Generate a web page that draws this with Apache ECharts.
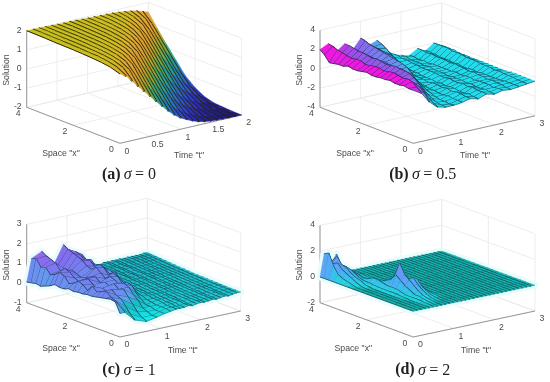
<!DOCTYPE html>
<html><head><meta charset="utf-8">
<style>html,body{margin:0;background:#fff}#c{width:550px;height:382px;filter:blur(.45px)}</style>
<script src="https://cdn.jsdelivr.net/npm/echarts@6/dist/echarts.min.js"></script>
</head><body><div id="c"></div>
<script>
const xGridFine=[0,.2,.4,.6,.8,1,1.2,1.4,1.6,1.8,2,2.2,2.4,2.6,2.8,3,3.2,3.4,3.6,3.8,4];
const xGridA=[0,.4,.8,1.2,1.6,2,2.4,2.8,3.2,3.6,4];
const tGridA=[0,.1,.2,.3,.4,.5,.6,.7,.8,.9,1,1.1,1.2,1.3,1.4,1.5,1.6,1.7,1.8,1.9,2];
const tGridB=[0,.2,.4,.6,.8,1,1.2,1.4,1.6,1.8,2,2.2,2.4,2.6,2.8,3];
const tGridC=[0,.12,.37,.66,.91,1.1,1.25,1.4,1.5,1.6,1.7,1.8,1.9,2,2.1,2.2,2.3,2.4,2.5,2.6,2.7,2.8,2.9,3];
const tGridD=[0,.1,.2,.3,.4,.5,.6,.7,.8,.9,1,1.1,1.2,1.3,1.4,1.5,1.6,1.7,1.8,1.9,2,2.1,2.2,2.3,2.4,2.5,2.6,2.7,2.8,2.9,3];
const solutionA=[
[1.62,1.78,1.85,1.89,1.92,1.94,1.95,1.96,1.98,1.99,2],
[1.43,1.7,1.82,1.88,1.9,1.93,1.95,1.96,1.97,1.99,1.99],
[1.1,1.6,1.77,1.85,1.89,1.92,1.94,1.95,1.96,1.98,1.99],
[.75,1.42,1.7,1.81,1.87,1.9,1.93,1.95,1.96,1.97,1.98],
[.41,1.07,1.58,1.76,1.84,1.89,1.92,1.94,1.95,1.96,1.97],
[.07,.72,1.39,1.69,1.8,1.87,1.9,1.92,1.94,1.95,1.96],
[-.28,.38,1.03,1.56,1.75,1.84,1.89,1.91,1.93,1.95,1.95],
[-.6,.04,.69,1.36,1.68,1.8,1.87,1.9,1.92,1.94,1.95],
[-.92,-.33,.35,1,1.54,1.75,1.83,1.88,1.91,1.93,1.94],
[-1.2,-.63,0,.66,1.33,1.66,1.79,1.86,1.89,1.91,1.93],
[-1.42,-.98,-.36,.31,.97,1.52,1.74,1.83,1.88,1.9,1.91],
[-1.58,-1.22,-.66,-.03,.62,1.3,1.65,1.79,1.86,1.89,1.91],
[-1.72,-1.44,-1,-.39,.28,.94,1.5,1.74,1.83,1.88,1.9],
[-1.83,-1.6,-1.25,-.7,-.05,.59,1.25,1.62,1.79,1.86,1.89],
[-1.9,-1.75,-1.45,-1.02,-.45,.24,.9,1.5,1.73,1.83,1.88],
[-1.94,-1.84,-1.62,-1.27,-.72,-.08,.56,1.2,1.6,1.78,1.85],
[-1.96,-1.91,-1.76,-1.47,-1.05,-.47,.2,.87,1.48,1.72,1.82],
[-1.98,-1.94,-1.85,-1.63,-1.3,-.75,-.1,.53,1.17,1.6,1.77],
[-1.99,-1.96,-1.91,-1.77,-1.48,-1.07,-.48,.18,.84,1.46,1.71],
[-1.99,-1.98,-1.94,-1.86,-1.64,-1.32,-.78,-.14,.5,1.14,1.6],
[-2,-1.99,-1.96,-1.92,-1.78,-1.5,-1.1,-.48,.15,.8,1.5]];
const solutionB=[
[1.5,1.5,1.6,1.5,1.5,1.6,1.5,1.5,1.4,1.4,1.5,1.4,1.3,1.3,1.4,1.2,1.2,1.1,1,1.6,2],
[1,1.4,1.8,1.9,1.8,1.9,2,1.9,1.8,1.9,1.9,1.8,1.7,1.9,1.9,1.8,1.9,2,2.1,2.3,2.4],
[-.1,.5,1,1.2,1.2,1.2,1.3,1.2,1.2,1.1,1.2,1.2,1.1,1.1,1.2,1.2,1.1,1.2,1.2,1.3,1.4],
[-.8,-.6,-.2,.3,.8,1.2,1.5,1.6,1.6,1.7,1.6,1.5,1.6,1.7,1.6,1.7,1.8,1.8,1.9,2,2],
[-1,-1,-.9,-.7,-.4,0,.4,.8,1,1.1,1.1,1,1.1,1.2,1.1,1.1,1.2,1.2,1.2,1.2,1.2],
[-1,-1.1,-1,-1,-.9,-.7,-.5,-.2,.1,.5,1,1.2,1.3,1.4,1.5,1.6,1.7,1.8,1.9,2.1,2.2],
[-.9,-.9,-.9,-.8,-.9,-.9,-.8,-.8,-.7,-.6,-.4,-.1,.2,.6,.9,1.1,1.2,1.2,1.3,1.3,1.3],
[-.7,-.7,-.6,-.6,-.7,-.6,-.7,-.6,-.6,-.7,-.6,-.6,-.5,-.4,-.2,0,.3,.7,1.1,1.4,1.6],
[-.9,-.9,-.8,-.9,-.9,-.8,-.8,-.9,-.8,-.9,-.8,-.8,-.8,-.7,-.7,-.6,-.5,-.3,0,.3,.5],
[-.6,-.6,-.6,-.5,-.6,-.5,-.6,-.6,-.5,-.6,-.6,-.5,-.5,-.5,-.5,-.4,-.4,-.3,-.3,-.2,-.2],
[-.8,-.8,-.7,-.8,-.8,-.7,-.8,-.7,-.7,-.7,-.8,-.7,-.7,-.7,-.6,-.7,-.6,-.6,-.6,-.5,-.5],
[-.6,-.6,-.7,-.6,-.6,-.6,-.7,-.6,-.6,-.7,-.6,-.7,-.7,-.7,-.7,-.7,-.8,-.7,-.8,-.7,-.7],
[-.7,-.7,-.6,-.6,-.5,-.6,-.5,-.5,-.4,-.5,-.4,-.4,-.3,-.4,-.3,-.3,-.3,-.2,-.3,-.2,-.2],
[-.6,-.6,-.6,-.6,-.7,-.7,-.7,-.7,-.7,-.8,-.7,-.8,-.8,-.7,-.8,-.7,-.7,-.7,-.6,-.6,-.6],
[-.5,-.5,-.5,-.4,-.4,-.4,-.3,-.4,-.3,-.3,-.3,-.2,-.2,-.2,-.1,-.1,-.1,0,0,0,0],
[-.4,-.4,-.4,-.4,-.4,-.4,-.5,-.5,-.5,-.5,-.5,-.5,-.5,-.5,-.5,-.5,-.5,-.4,-.4,-.4,-.4]];
const farC1=[-.2,-.2,-.15,-.15,-.1,-.1,-.05,-.05,0,0,.05,.05,.1,.1,.1,.15,.15,.2,.2,.2,.15];
const farC2=[-.15,-.15,-.1,-.1,-.1,-.05,-.05,0,0,.05,.05,.1,.1,.15,.15,.15,.2,.2,.2,.25,.2];
const farC3=[-.13,-.12,-.12,-.1,-.08,-.08,-.05,-.03,0,0,.03,.05,.08,.1,.1,.12,.15,.15,.18,.2,.2];
const farC4=[-.1,-.1,-.08,-.08,-.05,-.05,-.03,0,0,.03,.05,.08,.08,.1,.12,.15,.15,.18,.2,.22,.22];
const farC5=[-.06,-.06,-.05,-.04,-.04,-.03,-.02,0,.02,.03,.05,.07,.08,.1,.11,.12,.15,.18,.2,.21,.21];
const farC6=[-.03,-.02,-.02,-.01,0,0,.01,.02,.03,.04,.05,.07,.09,.1,.12,.14,.16,.18,.2,.22,.25];
const solutionC=[
[.2,.7,.75,.7,.65,.6,.55,.55,.5,.5,.45,.5,.4,.4,.45,.3,.2,.1,.15,.1,.05],
[.2,.4,.6,.7,.9,.8,.7,.9,.6,.8,.9,.7,.6,.9,1,.8,.7,1,.9,1.25,1.2],
[-.3,-.1,.2,.5,.6,.8,.6,.7,.5,.7,.9,.8,.6,.7,.9,1,.8,1.1,1.2,1.3,1.45],
[-.5,-.4,-.2,.1,.4,.7,.6,.8,.6,.7,.6,.8,.7,.6,.5,.6,.7,.6,.6,.7,.6],
[-.4,-.4,-.3,-.2,.1,.3,.6,.7,.5,.7,.8,.6,.8,1,.8,.9,1.1,1.2,1.3,1.4,1.55],
[-.3,-.3,-.3,-.2,-.2,0,.2,.5,.6,.4,.7,.8,.6,.9,.7,.8,1,.9,1.1,1.2,1],
[-.25,-.2,-.2,-.2,-.15,-.1,0,.05,.2,.4,.3,.5,.7,.5,.7,.8,.6,.9,.8,1,.87],
[-.2,-.2,-.2,-.15,-.1,-.1,-.05,0,0,.05,.1,.2,.1,.3,.5,.3,.4,.5,.3,.3,.1],
farC1,farC1,farC2,farC1,farC2,farC3,farC2,farC3,farC4,farC3,farC4,farC5,farC4,farC5,farC6,farC6];
const flatD=[0,0,0,0,0,0,0,0,0,0,0,0,0,0,0,0,0,0,0,0,0];
const solutionD=[
flatD,
[0,0,0,0,0,0,0,0,0,0,0,0,0,0,.1,.2,.3,.5,1,1.9,1.7],
[0,0,0,0,0,0,0,0,0,0,0,0,0,.05,.2,.4,.6,.8,1.2,1,.8],
[0,0,0,0,0,0,0,0,0,0,0,0,.05,.1,.3,.4,.6,.9,1,1.5,1],
[0,0,0,0,0,.05,.05,.1,.1,.1,.1,.1,.15,.2,.2,.3,.5,.7,.8,.8,1.5],
[0,.05,.05,.1,.1,.1,.1,.2,.3,.3,.3,.4,.5,.5,.3,.2,.3,.4,.5,.5,.6],
[0,0,.05,.1,.2,.2,.4,.6,.9,1.2,.7,.5,.3,.2,.1,.1,.1,.2,.2,.3,.3],
[0,0,.05,.1,.2,.4,.7,1,1.3,2,1,.4,.2,.1,.1,.05,.05,.1,.1,.1,.1],
[0,0,0,.05,.2,.4,.7,1.1,.6,.8,.4,.2,.1,.05,0,0,0,0,0,0,0],
[0,0,0,.05,.1,.3,.5,.9,.5,.3,.2,.1,.05,0,0,0,0,0,0,0,0],
[0,0,0,0,.05,.1,.2,.3,.2,.1,.05,0,0,0,0,0,0,0,0,0,0],
flatD,flatD,flatD,flatD,flatD,flatD,flatD,flatD,flatD,flatD,flatD,flatD,flatD,flatD,flatD,flatD,flatD,flatD,flatD,flatD];
const timeTicksA=[0,.5,1,1.5,2];
const timeTicks=[0,1,2,3];
const spaceTicks=[0,2,4];
const zTicksA=[-2,-1,0,1,2];
const zTicksB=[-4,-2,0,2,4];
const zTicksC=[-1,0,1,2,3];
const zTicksD=[-2,0,2,4];
const panelTags=['(a)','(b)','(c)','(d)'];
const sigmaValues=['0','0.5','1','2'];

const FONT='"Liberation Sans",Arial,sans-serif', TXT='#4a4a4a';
const panels=[
 {off:[0,0],O:[120,143.3],Vx:[-93.3,-36],Vt:[121.7,-28.3],H:76.6,ts:tGridA,xs:xGridA,zs:solutionA,tt:timeTicksA,zt:zTicksA,
  stops:[[-2,'#1e1a78'],[-1.5,'#2e34c4'],[-1,'#2a60cc'],[-.5,'#1f90b0'],[0,'#30a880'],[.5,'#9aa830'],[1,'#dc9c30'],[1.5,'#e4a838'],[1.8,'#d0bc22'],[2,'#c4c01e']],
  line:'#2a2400',lwT:2,lwX:0,cap:[129,175],sp:[61,153.3],ti:[189,155.7],so:[6.7,70],tShift:0},
 {off:[275,0],O:[138.3,143.3],Vx:[-93.3,-36],Vt:[121.7,-27.5],H:77,ts:tGridB,xs:xGridFine,zs:solutionB,tt:timeTicks,zt:zTicksB,
  stops:[[-1,'#22dcec'],[-.3,'#38c8ee'],[.3,'#6a90f0'],[1,'#9a50e8'],[1.5,'#f018e0']],
  line:'#0c2030',lwT:1.4,lwX:1,cap:[147.7,175],sp:[80,153.3],ti:[200,155.7],so:[25,70],tShift:1},
 {off:[0,191],O:[120,146],Vx:[-93.3,-34.3],Vt:[120.7,-26],H:78.4,ts:tGridC,xs:xGridFine,zs:solutionC,tt:timeTicks,zt:zTicksC,
  stops:[[-.5,'#10f0f0'],[-.1,'#1cc8d0'],[.25,'#1cb4c0'],[.4,'#60a0f0'],[1,'#8070f0'],[1.6,'#a860e8']],
  line:'#0c2030',lwT:1.3,lwX:.7,halo:true,cap:[129,179.3],sp:[61,157.7],ti:[182.7,160],so:[6.7,74],tShift:0},
 {off:[275,191],O:[138.3,146],Vx:[-93.3,-34.3],Vt:[121.7,-26],H:77.3,ts:tGridD,xs:xGridFine,zs:solutionD,tt:timeTicks,zt:zTicksD,
  stops:[[0,'#14b4b0'],[.05,'#22d8e0'],[.5,'#40b8f0'],[1,'#60a0f8'],[2,'#7090f8']],
  line:'#0c3038',lwT:1.4,lwX:.3,halo:true,cap:[147.7,179.3],sp:[78.3,157.7],ti:[201,160],so:[25,74],tShift:0}
];
function hex(c){return [1,3,5].map(i=>parseInt(c.substr(i,2),16));}
function colorAt(stops,z){
 if(z<=stops[0][0])return stops[0][1];
 for(let i=1;i<stops.length;i++){if(z<=stops[i][0]){
  const f=(z-stops[i-1][0])/(stops[i][0]-stops[i-1][0]),a=hex(stops[i-1][1]),b=hex(stops[i][1]);
  return 'rgb('+a.map((v,k)=>Math.round(v+(b[k]-v)*f)).join(',')+')';}}
 return stops[stops.length-1][1];
}
const series=[],grid=[],xAxis=[],yAxis=[];
panels.forEach((p,idx)=>{
 const tMax=p.ts[p.ts.length-1],xMax=p.xs[p.xs.length-1],zMin=p.zt[0],zMax=p.zt[p.zt.length-1];
 const proj=(t,x,z)=>[p.O[0]+t/tMax*p.Vt[0]+x/xMax*p.Vx[0],
                      p.O[1]+t/tMax*p.Vt[1]+x/xMax*p.Vx[1]-(z-zMin)/(zMax-zMin)*p.H];
 grid.push({left:p.off[0],top:p.off[1],width:275,height:191});
 xAxis.push({gridIndex:idx,type:'value',min:0,max:275,show:false});
 yAxis.push({gridIndex:idx,type:'value',min:0,max:191,inverse:true,show:false});
 const ax={xAxisIndex:idx,yAxisIndex:idx,animation:false,silent:true,clip:false};
 const lines=[];
 const add=(a,b,k)=>lines.push([...a,...b,k]);
 p.tt.forEach(t=>{add([t,0,zMin],[t,xMax,zMin],0);add([t,xMax,zMin],[t,xMax,zMax],0);});
 spaceTicks.forEach(x=>{add([0,x,zMin],[tMax,x,zMin],0);add([tMax,x,zMin],[tMax,x,zMax],0);});
 p.zt.forEach(z=>{add([0,xMax,z],[tMax,xMax,z],0);add([tMax,0,z],[tMax,xMax,z],0);});
 add([0,0,zMin],[0,xMax,zMin],1);add([0,0,zMin],[tMax,0,zMin],1);add([0,xMax,zMin],[0,xMax,zMax],1);
 series.push({...ax,type:'custom',z:1,encode:{x:0,y:1},data:lines,renderItem(_,api){
  const a=api.coord(proj(api.value(0),api.value(1),api.value(2))),b=api.coord(proj(api.value(3),api.value(4),api.value(5)));
  const dark=api.value(6)===1;
  return {type:'line',shape:{x1:a[0],y1:a[1],x2:b[0],y2:b[1]},style:{stroke:dark?'#8c8c8c':'#e8e8e8',lineWidth:dark?.9:.8}};
 }});
 const cells=[];
 for(let j=p.xs.length-2;j>=0;j--)for(let i=p.ts.length-2;i>=0;i--)
  cells.push([p.ts[i],p.ts[i+1],p.xs[j],p.xs[j+1],p.zs[i][j],p.zs[i+1][j],p.zs[i][j+1],p.zs[i+1][j+1]]);
 const corners=api=>{const v=k=>api.value(k);return [
  api.coord(proj(v(0),v(2),v(4))),api.coord(proj(v(1),v(2),v(5))),
  api.coord(proj(v(1),v(3),v(7))),api.coord(proj(v(0),v(3),v(6)))];};
 if(p.halo)series.push({...ax,type:'custom',z:2,encode:{x:0,y:4},data:cells,renderItem(_,api){
  return {type:'polygon',shape:{points:corners(api)},style:{fill:'#e8fcfc',stroke:'#e8fcfc',lineWidth:7,lineJoin:'round'}};
 }});
 series.push({...ax,type:'custom',z:3,encode:{x:0,y:4},data:cells,renderItem(_,api){
  const pts=corners(api),avg=(api.value(4)+api.value(5)+api.value(6)+api.value(7))/4;
  const fill=colorAt(p.stops,avg-p.tShift*(api.value(0)+api.value(1))/2);
  const kids=[{type:'polygon',shape:{points:pts},style:{fill,stroke:fill,lineWidth:.4}}];
  const wT=api.value(0)===0?p.lwT/2:p.lwT, wX=api.value(2)===0?p.lwX/2:p.lwX;
  if(wT)kids.push({type:'line',shape:{x1:pts[0][0],y1:pts[0][1],x2:pts[3][0],y2:pts[3][1]},style:{stroke:p.line,lineWidth:wT}});
  if(wX)kids.push({type:'line',shape:{x1:pts[0][0],y1:pts[0][1],x2:pts[1][0],y2:pts[1][1]},style:{stroke:p.line,lineWidth:wX}});
  return {type:'group',children:kids};
 }});
 const labels=[];
 p.zt.forEach(z=>labels.push({at:proj(0,xMax,z),d:[-5,-.5],text:String(z),align:'right'}));
 spaceTicks.forEach(x=>labels.push({at:proj(0,x,zMin),d:[-8.5,6.5],text:String(x),align:'center'}));
 p.tt.forEach(t=>labels.push({at:proj(t,0,zMin),d:[7,8],text:String(t),align:'center'}));
 labels.push({at:p.sp,d:[0,0],text:'Space "x"',align:'center'});
 labels.push({at:p.ti,d:[0,0],text:'Time "t"',align:'center'});
 labels.push({at:p.so,d:[0,0],text:'Solution',align:'center',rot:Math.PI/2});
 labels.push({at:p.cap,d:[0,0],align:'center',cap:true,
   text:'{b|'+panelTags[idx]+'} {i|σ} {n|= '+sigmaValues[idx]+'}'});
 series.push({...ax,type:'custom',z:4,encode:{x:0,y:1},data:labels.map(l=>[l.at[0],l.at[1]]),renderItem(params,api){
  const l=labels[params.dataIndex],c=api.coord([api.value(0),api.value(1)]);
  const serif='"Liberation Serif","DejaVu Serif",serif';
  return {type:'text',x:c[0]+l.d[0],y:c[1]+l.d[1],rotation:l.rot||0,
   style:l.cap?{text:l.text,align:'center',verticalAlign:'middle',rich:{
     b:{font:'bold 16px '+serif,fill:'#222'},i:{font:'italic 16px '+serif,fill:'#222'},n:{font:'16px '+serif,fill:'#222'}}}
    :{text:l.text,align:l.align,verticalAlign:'middle',font:'8.7px '+FONT,fill:TXT}};
 }});
});
const chart=echarts.init(document.getElementById('c'),null,{renderer:'canvas',width:550,height:382});
chart.setOption({animation:false,backgroundColor:'#fff',grid,xAxis,yAxis,series});
</script></body></html>
